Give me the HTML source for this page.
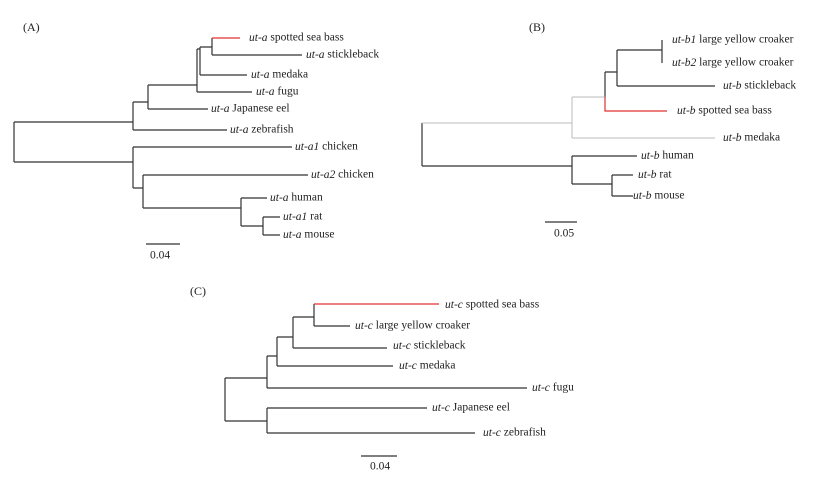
<!DOCTYPE html>
<html><head><meta charset="utf-8"><style>
html,body{margin:0;padding:0;background:#fff;}
svg{display:block;}
text{font-family:"Liberation Serif",serif;font-size:11.5px;fill:#222;dominant-baseline:middle;}
</style></head><body>
<svg width="818" height="482" viewBox="0 0 818 482" xmlns="http://www.w3.org/2000/svg">
<rect width="818" height="482" fill="#fff"/>
<g stroke="#333" stroke-width="1.2" fill="none">
<!-- A -->
<path d="M14 122V162M14 122H133M14 162H133"/>
<path d="M133 102V130M133 130H227M133 102H148"/>
<path d="M148 85V109M148 109H208M148 85H197"/>
<path d="M197 49V92M197 92H252M197 49H200"/>
<path d="M200 47V75M200 75H247M200 47H212"/>
<path d="M212 38V55M212 55H302"/>
<path d="M133 147V188M133 147H292M133 188H143"/>
<path d="M143 175V208M143 175H308M143 208H241"/>
<path d="M241 198V226M241 198H267M241 226H263"/>
<path d="M263 217V235M263 217H280M263 235H280"/>
<path d="M146 244H180"/>
<!-- B -->
<path d="M422 123V166M422 166H572"/>
<path d="M572 156V184M572 156H637M572 184H612"/>
<path d="M612 175V196M612 175H633M612 196H633"/>
<path d="M605 72V97M605 72H617"/>
<path d="M617 50V86M617 86H715M617 50H662M662 40V63"/>
<path d="M545 222H577"/>
<!-- C -->
<path d="M225 378V421M225 378H267M225 421H267"/>
<path d="M267 356V388M267 388H527M267 356H277"/>
<path d="M267 408V433M267 408H427M267 433H475"/>
<path d="M277 337V366M277 366H393M277 337H293"/>
<path d="M293 317V348M293 348H387M293 317H314"/>
<path d="M314 304V326M314 326H350"/>
<path d="M361 456H397"/>
</g>
<g stroke="#bbb" stroke-width="1" fill="none">
<path d="M422 123H572M572 97V138M572 138H715M572 97H605"/>
</g>
<g stroke="#e03030" stroke-width="1.2" fill="none">
<path d="M212 38H240"/>
<path d="M605 97V111H667"/>
<path d="M314 304H439"/>
</g>
<text x="23" y="28" style="font-size:12px">(A)</text>
<text x="529" y="28" style="font-size:12px">(B)</text>
<text x="190" y="292" style="font-size:12px">(C)</text>
<text x="150" y="256">0.04</text>
<text x="554" y="234">0.05</text>
<text x="370" y="467">0.04</text>
<text x="249" y="38"><tspan font-style="italic">ut-a</tspan> spotted sea bass</text>
<text x="306" y="55"><tspan font-style="italic">ut-a</tspan> stickleback</text>
<text x="251" y="75"><tspan font-style="italic">ut-a</tspan> medaka</text>
<text x="256" y="92"><tspan font-style="italic">ut-a</tspan> fugu</text>
<text x="211" y="109"><tspan font-style="italic">ut-a</tspan> Japanese eel</text>
<text x="230" y="130"><tspan font-style="italic">ut-a</tspan> zebrafish</text>
<text x="295" y="147"><tspan font-style="italic">ut-a1</tspan> chicken</text>
<text x="311" y="175"><tspan font-style="italic">ut-a2</tspan> chicken</text>
<text x="270" y="198"><tspan font-style="italic">ut-a</tspan> human</text>
<text x="283" y="217"><tspan font-style="italic">ut-a1</tspan> rat</text>
<text x="283" y="235"><tspan font-style="italic">ut-a</tspan> mouse</text>
<text x="672" y="40"><tspan font-style="italic">ut-b1</tspan> large yellow croaker</text>
<text x="672" y="63"><tspan font-style="italic">ut-b2</tspan> large yellow croaker</text>
<text x="723" y="86"><tspan font-style="italic">ut-b</tspan> stickleback</text>
<text x="677" y="111"><tspan font-style="italic">ut-b</tspan> spotted sea bass</text>
<text x="723" y="138"><tspan font-style="italic">ut-b</tspan> medaka</text>
<text x="641" y="156"><tspan font-style="italic">ut-b</tspan> human</text>
<text x="638" y="175"><tspan font-style="italic">ut-b</tspan> rat</text>
<text x="633" y="196"><tspan font-style="italic">ut-b</tspan> mouse</text>
<text x="445" y="305"><tspan font-style="italic">ut-c</tspan> spotted sea bass</text>
<text x="355" y="326"><tspan font-style="italic">ut-c</tspan> large yellow croaker</text>
<text x="393" y="346"><tspan font-style="italic">ut-c</tspan> stickleback</text>
<text x="399" y="366"><tspan font-style="italic">ut-c</tspan> medaka</text>
<text x="532" y="388"><tspan font-style="italic">ut-c</tspan> fugu</text>
<text x="432" y="408"><tspan font-style="italic">ut-c</tspan> Japanese eel</text>
<text x="483" y="433"><tspan font-style="italic">ut-c</tspan> zebrafish</text>
</svg>
</body></html>
